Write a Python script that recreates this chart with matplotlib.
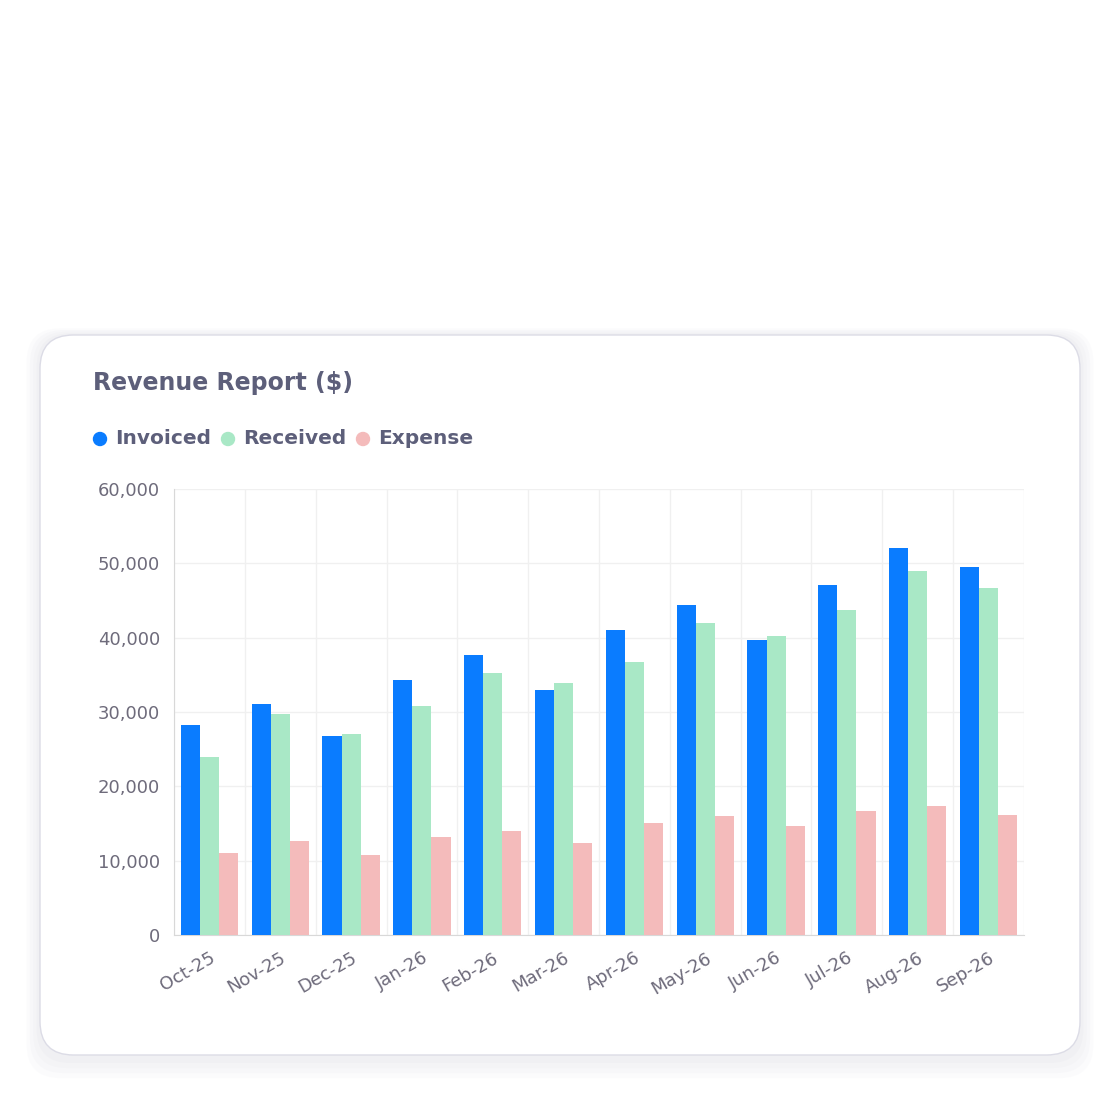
import matplotlib
matplotlib.use("Agg")
import matplotlib.pyplot as plt
from matplotlib.patches import FancyBboxPatch
import numpy as np

months = ["Oct-25","Nov-25","Dec-25","Jan-26","Feb-26","Mar-26","Apr-26","May-26","Jun-26","Jul-26","Aug-26","Sep-26"]
invoiced = [28300,31100,26800,34300,37700,33000,41000,44400,39700,47100,52000,49500]
received = [24000,29700,27000,30800,35300,33900,36700,42000,40200,43700,49000,46700]
expense = [11000,12700,10800,13200,14000,12400,15100,16000,14700,16700,17400,16200]
series = [("Invoiced", invoiced, "#0a7cff"), ("Received", received, "#a9e8c6"), ("Expense", expense, "#f4bbbb")]

fig = plt.figure(figsize=(11.2, 11.2), dpi=100)
fig.patch.set_facecolor("white")
# card shadow and card
for i, a in enumerate([0.03, 0.03, 0.03, 0.04]):
    pad = 0.012 - i*0.003
    fig.patches.append(FancyBboxPatch((40/1120 - pad, 1-1058/1120 - pad*1.5), 1040/1120 + 2*pad, 723/1120 + 2*pad,
                                      boxstyle="round,pad=0,rounding_size=0.03", transform=fig.transFigure,
                                      facecolor="#9a9ab8", edgecolor="none", alpha=a, zorder=0))
fig.patches.append(FancyBboxPatch((40/1120, 1-1055/1120), 1040/1120, 720/1120,
                                  boxstyle="round,pad=0,rounding_size=0.03", transform=fig.transFigure,
                                  facecolor="white", edgecolor="#dcdce6", lw=1, zorder=1))

fig.text(93/1120, 1-383/1120, "Revenue Report ($)", fontsize=17, fontweight="bold", color="#5d5f7a", va="center", zorder=3)
lx = [100, 228, 363]
for (name, _, c), x in zip(series, lx):
    fig.patches.append(plt.Circle((x/1120, 1-439/1120), 6.5/1120, transform=fig.transFigure, color=c, zorder=3))
    fig.text((x+15)/1120, 1-439/1120, name, fontsize=14.5, fontweight="bold", color="#5d5f7a", va="center", zorder=3)

ax = fig.add_axes([174/1120, 185/1120, 850/1120, 446/1120], zorder=2)
ax.set_facecolor("none")
x = np.arange(len(months))
w = 0.27
for k, (name, vals, c) in enumerate(series):
    ax.bar(x + (k-1)*w, vals, width=w, color=c, zorder=3)
ax.set_xlim(-0.5, len(months)-0.5)
ax.set_ylim(0, 60000)
ax.set_yticks(range(0, 60001, 10000))
ax.set_yticklabels([f"{v:,}" for v in range(0, 60001, 10000)])
ax.set_xticks(x)
ax.set_xticklabels(months, rotation=30, ha="right", rotation_mode="anchor")
ax.tick_params(axis="both", colors="#6e6b7b", labelsize=13, length=0, pad=10)
ax.grid(axis="y", color="#f0f0f0", lw=1, zorder=0)
for b in np.arange(-0.5, len(months)+0.5, 1):
    ax.axvline(b, color="#f0f0f0", lw=1, zorder=0)
for s in ["top", "right"]:
    ax.spines[s].set_visible(False)
for s in ["left", "bottom"]:
    ax.spines[s].set_color("#d8d8d8")
fig.savefig("out.png", dpi=100)
